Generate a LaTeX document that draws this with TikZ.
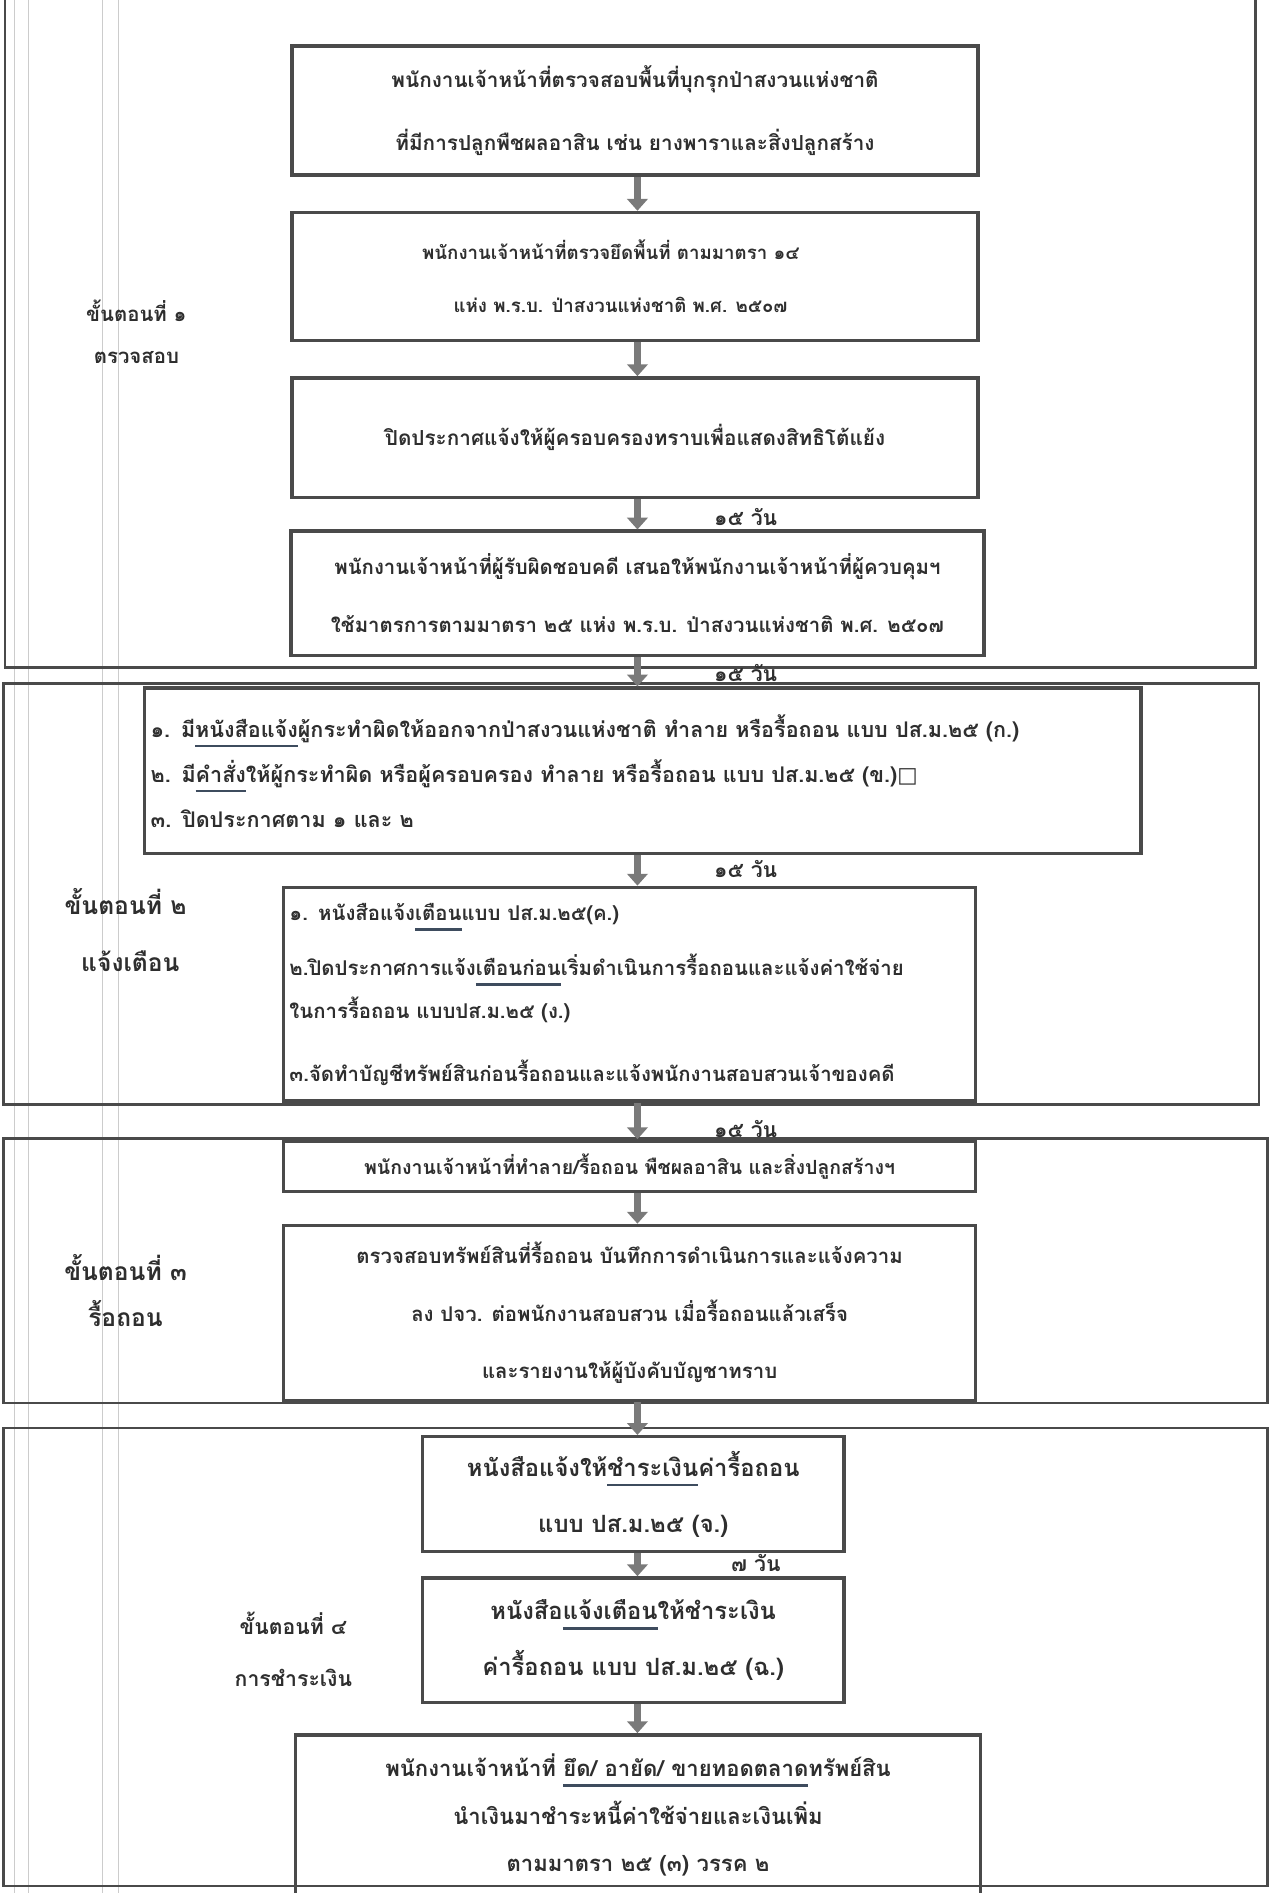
\documentclass[tikz,border=0pt]{standalone}
\usepackage{fontspec}
\newfontfamily\thaifont[Script=Thai]{Loma}
\newfontfamily\glyphfont{DejaVu Sans}
\usetikzlibrary{arrows.meta,positioning}
\definecolor{boxgray}{HTML}{4A4A4A}
\definecolor{arrowgray}{HTML}{7A7A7A}
\definecolor{inkgray}{HTML}{2E2E2E}
\definecolor{penblue}{HTML}{3E4C5E}
\newcommand\thsize[2]{\fontsize{#1}{#2}\selectfont}
% pen mark under a word
\newcommand\penmk[1]{\setbox0=\hbox{#1}\leavevmode\rlap{\textcolor{penblue}{\rule[-6pt]{\wd0}{1.6pt}}}\box0}

\begin{document}
\begin{tikzpicture}[x=0.025cm, y=-0.025cm,
        % Style for the boxes of each step
        stepbox/.style={draw=boxgray, line width=2pt, inner sep=0pt, text=inkgray, align=center},
        % Style for the left aligned boxes
        listbox/.style={stepbox, align=left, inner xsep=0.12cm},
        % Style for the frames round each stage
        stageframe/.style={draw=boxgray, line width=1.5pt},
        % Style for the arrows between boxes
        flowarrow/.style={draw=arrowgray, line width=4pt, -{Triangle[width=12pt, length=7pt]}},
        % Style for the day labels
        daylabel/.style={font=\thaifont\bfseries\thsize{12.5}{15}, text=inkgray, anchor=west},
        % Style for the stage names
        stagelabel/.style={font=\thaifont\bfseries, text=inkgray}
    ]
        \useasboundingbox (0,0) rectangle (1053,1568);
        \fill[white] (0,0) rectangle (1053,1568);

        % --- Faint ruling of the page ---
        \foreach \xr in {12,24,85,98}
            \draw[black!20, line width=0.6pt] (\xr,0) -- (\xr,1568);

        % --- Frames round the stages ---
        \draw[stageframe] (4,-5) rectangle (1040,553);
        \draw[stageframe] (3,566) rectangle (1043,915);
        \draw[stageframe] (3,943) rectangle (1050,1162);
        \draw[stageframe] (3,1183) rectangle (1050,1562);

        % Axis of the arrows
        \coordinate (axis) at (528,0);

        % --- Step 1: checking ---
        \node[stepbox, minimum width=14.2cm, minimum height=2.675cm,
              font=\thaifont\bfseries\thsize{12.2}{37}] (b1) at (526,91.5)
            {พนักงานเจ้าหน้าที่ตรวจสอบพื้นที่บุกรุกป่าสงวนแห่งชาติ\\ที่มีการปลูกพืชผลอาสิน เช่น ยางพาราและสิ่งปลูกสร้าง};
        \node[stepbox, minimum width=14.2cm, minimum height=2.65cm,
              font=\thaifont\bfseries\thsize{11}{31}] (b2) at (526,229)
            {พนักงานเจ้าหน้าที่ตรวจยึดพื้นที่ ตามมาตรา ๑๔\hspace*{1cm}\\แห่ง พ.ร.บ. ป่าสงวนแห่งชาติ พ.ศ. ๒๕๐๗\hspace*{0.6cm}};
        \node[stepbox, minimum width=14.2cm, minimum height=2.475cm,
              font=\thaifont\bfseries\thsize{12.2}{16}] (b3) at (526,362.5)
            {ปิดประกาศแจ้งให้ผู้ครอบครองทราบเพื่อแสดงสิทธิโต้แย้ง};
        \node[stepbox, minimum width=14.35cm, minimum height=2.575cm,
              font=\thaifont\bfseries\thsize{12}{34}] (b4) at (528,491.5)
            {พนักงานเจ้าหน้าที่ผู้รับผิดชอบคดี เสนอให้พนักงานเจ้าหน้าที่ผู้ควบคุมฯ\\ใช้มาตรการตามมาตรา ๒๕ แห่ง พ.ร.บ. ป่าสงวนแห่งชาติ พ.ศ. ๒๕๐๗};

        \node[stagelabel, font=\thaifont\bfseries\thsize{12}{16}] (s1a) at (113,257) {ขั้นตอนที่ ๑};
        \node[stagelabel, font=\thaifont\bfseries\thsize{12}{16}] (s1b) at (113,296) {ตรวจสอบ};

        % --- Step 2: warning ---
        \node[listbox, text width=20.385cm, minimum height=3.425cm,
              font=\thaifont\bfseries\thsize{12.7}{26.5}] (b5) at (532.5,638.5)
            {๑. มี\penmk{หนังสือแจ้ง}ผู้กระทำผิดให้ออกจากป่าสงวนแห่งชาติ ทำลาย หรือรื้อถอน แบบ ปส.ม.๒๕ (ก.)\\
             ๒. มี\penmk{คำสั่ง}ให้ผู้กระทำผิด หรือผู้ครอบครอง ทำลาย หรือรื้อถอน แบบ ปส.ม.๒๕ (ข.){\glyphfont □}\\
             ๓. ปิดประกาศตาม ๑ และ ๒};
        \node[listbox, text width=14.085cm, minimum height=4.425cm,
              font=\thaifont\bfseries\thsize{12}{25}] (b6) at (521.5,823.5)
            {๑. หนังสือแจ้ง\penmk{เตือน} แบบ ปส.ม.๒๕(ค.)\\[7.7pt]
             ๒.ปิดประกาศการแจ้ง\penmk{เตือนก่อน}เริ่มดำเนินการรื้อถอนและแจ้งค่าใช้จ่าย\\
             ในการรื้อถอน แบบปส.ม.๒๕ (ง.)\\[12pt]
             ๓.จัดทำบัญชีทรัพย์สินก่อนรื้อถอนและแจ้งพนักงานสอบสวนเจ้าของคดี};

        \node[stagelabel, font=\thaifont\bfseries\thsize{14.5}{18}] (s2a) at (104,747) {ขั้นตอนที่ ๒};
        \node[stagelabel, font=\thaifont\bfseries\thsize{14.5}{18}] (s2b) at (108,796) {แจ้งเตือน};

        % --- Step 3: removal ---
        \node[stepbox, minimum width=14.325cm, minimum height=1.05cm,
              font=\thaifont\bfseries\thsize{11.5}{15}] (b7) at (521.5,966)
            {พนักงานเจ้าหน้าที่ทำลาย/รื้อถอน พืชผลอาสิน และสิ่งปลูกสร้างฯ};
        \node[stepbox, minimum width=14.325cm, minimum height=3.625cm,
              font=\thaifont\bfseries\thsize{12}{34}] (b8) at (521.5,1087.5)
            {ตรวจสอบทรัพย์สินที่รื้อถอน บันทึกการดำเนินการและแจ้งความ\\ลง ปจว. ต่อพนักงานสอบสวน เมื่อรื้อถอนแล้วเสร็จ\\และรายงานให้ผู้บังคับบัญชาทราบ};

        \node[stagelabel, font=\thaifont\bfseries\thsize{14.5}{18}] (s3a) at (104,1050) {ขั้นตอนที่ ๓};
        \node[stagelabel, font=\thaifont\bfseries\thsize{14.5}{18}] (s3b) at (104,1088) {รื้อถอน};

        % --- Step 4: payment ---
        \node[stepbox, minimum width=8.725cm, minimum height=2.375cm,
              font=\thaifont\bfseries\thsize{14}{33}] (b9) at (524.5,1237.5)
            {หนังสือแจ้งให้\penmk{ชำระเงิน}ค่ารื้อถอน\\แบบ ปส.ม.๒๕ (จ.)};
        \node[stepbox, minimum width=8.725cm, minimum height=2.575cm,
              font=\thaifont\bfseries\thsize{14}{33}] (b10) at (524.5,1358.5)
            {หนังสือ\penmk{แจ้งเตือน}ให้ชำระเงิน\\ค่ารื้อถอน แบบ ปส.ม.๒๕ (ฉ.)};
        \node[stepbox, minimum width=14.175cm, minimum height=3.325cm,
              font=\thaifont\bfseries\thsize{13}{28}] (b11) at (528.5,1503.5)
            {พนักงานเจ้าหน้าที่ \penmk{ยึด/ อายัด/ ขายทอดตลาด}ทรัพย์สิน\\นำเงินมาชำระหนี้ค่าใช้จ่ายและเงินเพิ่ม\\ตามมาตรา ๒๕ (๓) วรรค ๒};

        \node[stagelabel, font=\thaifont\bfseries\thsize{12.5}{16}] (s4a) at (243,1345) {ขั้นตอนที่ ๔};
        \node[stagelabel, font=\thaifont\bfseries\thsize{12.5}{16}] (s4b) at (243,1390) {การชำระเงิน};

        % --- Arrows between the boxes ---
        \draw[flowarrow] (b1.south -| axis) -- (b2.north -| axis);
        \draw[flowarrow] (b2.south -| axis) -- (b3.north -| axis);
        \draw[flowarrow] (b3.south -| axis) -- node[daylabel, right=1.4cm, pos=0.6] {๑๕ วัน} (b4.north -| axis);
        \draw[flowarrow] (b4.south -| axis) -- node[daylabel, right=1.4cm, pos=0.55] {๑๕ วัน} (b5.north -| axis);
        \draw[flowarrow] (b5.south -| axis) -- node[daylabel, right=1.4cm, pos=0.46] {๑๕ วัน} (b6.north -| axis);
        \draw[flowarrow] (b6.south -| axis) -- node[daylabel, right=1.4cm, pos=0.73] {๑๕ วัน} (b7.north -| axis);
        \draw[flowarrow] (b7.south -| axis) -- (b8.north -| axis);
        \draw[flowarrow] (b8.south -| axis) -- (b9.north -| axis);
        \draw[flowarrow] (b9.south -| axis) -- node[daylabel, right=1.75cm, pos=0.45] {๗ วัน} (b10.north -| axis);
        \draw[flowarrow] (b10.south -| axis) -- (b11.north -| axis);
    \end{tikzpicture}
\end{document}
